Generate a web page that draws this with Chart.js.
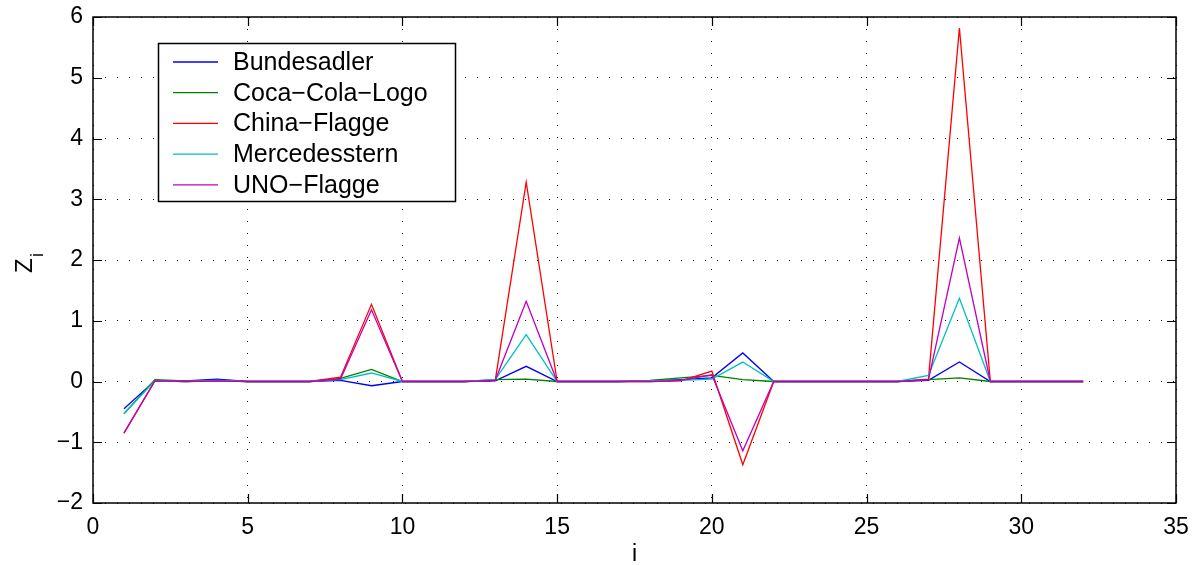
<!DOCTYPE html>
<html>
<head>
<meta charset="utf-8">
<script src="https://cdn.jsdelivr.net/npm/chart.js@4.4.1/dist/chart.umd.min.js"></script>
<style>
  html, body { margin: 0; padding: 0; background: #fff; }
  #wrap { width: 1200px; height: 565px; position: relative; }
</style>
</head>
<body>
<div id="wrap"><canvas id="zChart"></canvas></div>
<script>
const indices = [1, 2, 3, 4, 5, 6, 7, 8, 9, 10, 11, 12, 13, 14, 15, 16,
  17, 18, 19, 20, 21, 22, 23, 24, 25, 26, 27, 28, 29, 30, 31, 32];

const bundesadler = [-0.45, 0.01, 0.01, 0.04, 0, 0, 0, 0.02, -0.07, 0, 0, 0, 0.01, 0.25, 0, 0,
  0, 0.01, 0.03, 0.06, 0.47, 0, 0, 0, 0, 0, 0.02, 0.32, 0, 0, 0, 0];
const cocaCola = [-0.53, 0.03, 0.01, 0.02, 0, 0, 0, 0.05, 0.2, 0, 0, 0, 0.03, 0.04, 0, 0,
  0, 0.02, 0.06, 0.1, 0.03, 0, 0, 0, 0, 0, 0.03, 0.06, 0, 0, 0, 0];
const chinaFlagge = [-0.85, 0.01, 0, 0.01, 0, 0, 0, 0.07, 1.27, 0, 0, 0, 0.02, 3.28, 0, 0,
  0, 0, 0.01, 0.17, -1.37, 0, 0, 0, 0, 0, 0.04, 5.82, 0, 0, 0, 0];
const mercedes = [-0.53, 0.01, 0, 0.02, 0, 0, 0, 0.03, 0.14, 0, 0, 0, 0.03, 0.77, 0, 0,
  0, 0.01, 0.02, 0.04, 0.32, 0, 0, 0, 0, 0, 0.1, 1.37, 0, 0, 0, 0];
const unoFlagge = [-0.85, 0.01, 0, 0.01, 0, 0, 0, 0.04, 1.18, 0, 0, 0, 0.02, 1.32, 0, 0,
  0, 0, 0.02, 0.11, -1.14, 0, 0, 0, 0, 0, 0.03, 2.36, 0, 0, 0, 0];

const seriesNames = ["Bundesadler", "Coca\u2212Cola\u2212Logo", "China\u2212Flagge", "Mercedesstern", "UNO\u2212Flagge"];
const seriesValues = [bundesadler, cocaCola, chinaFlagge, mercedes, unoFlagge];
const seriesColors = ["#0000ff", "#008000", "#ff0000", "#00bfbf", "#bf00bf"];

const xTicks = [0, 5, 10, 15, 20, 25, 30, 35];
const yTicks = [-2, -1, 0, 1, 2, 3, 4, 5, 6];

const FONT = "'Liberation Sans', Arial, Helvetica, sans-serif";

const datasets = seriesValues.map((vals, k) => ({
  label: seriesNames[k],
  data: vals.map((v, j) => ({ x: indices[j], y: v })),
  borderColor: seriesColors[k],
  backgroundColor: seriesColors[k],
  borderWidth: 1.3,
  pointRadius: 0,
  showLine: true,
  tension: 0,
  order: seriesValues.length - k
}));

const minus = v => String(v).replace("-", "\u2212");

// frame, inward tick marks, axis labels and boxed legend
const decorations = {
  id: "decorations",
  afterDraw(chart) {
    const { ctx, chartArea: a, scales } = chart;
    ctx.save();
    ctx.strokeStyle = "#000";
    ctx.lineWidth = 1.2;
    const tl = 9;
    ctx.beginPath();
    xTicks.forEach(t => {
      const px = Math.round(scales.x.getPixelForValue(t)) + 0.5;
      ctx.moveTo(px, a.bottom); ctx.lineTo(px, a.bottom - tl);
      ctx.moveTo(px, a.top); ctx.lineTo(px, a.top + tl);
    });
    yTicks.forEach(t => {
      const py = Math.round(scales.y.getPixelForValue(t)) + 0.5;
      ctx.moveTo(a.left, py); ctx.lineTo(a.left + tl, py);
      ctx.moveTo(a.right, py); ctx.lineTo(a.right - tl, py);
    });
    ctx.stroke();
    ctx.lineWidth = 1.5;
    ctx.strokeRect(a.left, a.top, a.right - a.left, a.bottom - a.top);

    // axis labels
    ctx.fillStyle = "#000";
    ctx.font = "23px " + FONT;
    ctx.textAlign = "center";
    ctx.textBaseline = "alphabetic";
    ctx.fillText("i", (a.left + a.right) / 2, 561);

    ctx.save();
    ctx.translate(32, 273);
    ctx.rotate(-Math.PI / 2);
    ctx.textAlign = "left";
    ctx.font = "24px " + FONT;
    ctx.fillText("Z", 0, 0);
    ctx.font = "18px " + FONT;
    ctx.fillText("i", 16, 11);
    ctx.restore();

    // legend box
    const bx = 158, by = 43, bw = 297, bh = 158;
    ctx.fillStyle = "#fff";
    ctx.fillRect(bx, by, bw, bh);
    ctx.lineWidth = 1.5;
    ctx.strokeStyle = "#000";
    ctx.strokeRect(bx + 0.5, by + 0.5, bw, bh);
    ctx.font = "25px " + FONT;
    ctx.textAlign = "left";
    ctx.textBaseline = "middle";
    seriesNames.forEach((name, k) => {
      const yy = 62 + k * 30.7;
      ctx.strokeStyle = seriesColors[k];
      ctx.lineWidth = 1.3;
      ctx.beginPath();
      ctx.moveTo(173, yy);
      ctx.lineTo(218, yy);
      ctx.stroke();
      ctx.fillStyle = "#000";
      ctx.fillText(name, 233, yy + 1);
    });
    ctx.restore();
  }
};

new Chart(document.getElementById("zChart"), {
  type: "scatter",
  data: { datasets },
  options: {
    responsive: true,
    maintainAspectRatio: false,
    animation: false,
    layout: { padding: { top: 17, right: 24, left: 0, bottom: 0 } },
    plugins: {
      legend: { display: false },
      tooltip: { enabled: false }
    },
    scales: {
      x: {
        type: "linear",
        min: 0,
        max: 35,
        afterFit: s => { s.height = 62; s.paddingLeft = 0; s.paddingRight = 0; },
        afterBuildTicks: s => { s.ticks = xTicks.map(v => ({ value: v })); },
        ticks: {
          color: "#000",
          font: { family: FONT, size: 23 },
          padding: 11,
          maxRotation: 0,
          callback: minus
        },
        grid: { color: "#000", lineWidth: 1, drawTicks: false, tickLength: 0 },
        border: { display: false, dash: [1, 11] }
      },
      y: {
        type: "linear",
        min: -2,
        max: 6,
        afterFit: s => { s.width = 93; s.paddingTop = 0; s.paddingBottom = 0; },
        afterBuildTicks: s => { s.ticks = yTicks.map(v => ({ value: v })); },
        ticks: {
          color: "#000",
          font: { family: FONT, size: 23 },
          padding: 10,
          callback: minus
        },
        grid: { color: "#000", lineWidth: 1, drawTicks: false, tickLength: 0 },
        border: { display: false, dash: [1, 11] }
      }
    }
  },
  plugins: [decorations]
});
</script>
</body>
</html>
